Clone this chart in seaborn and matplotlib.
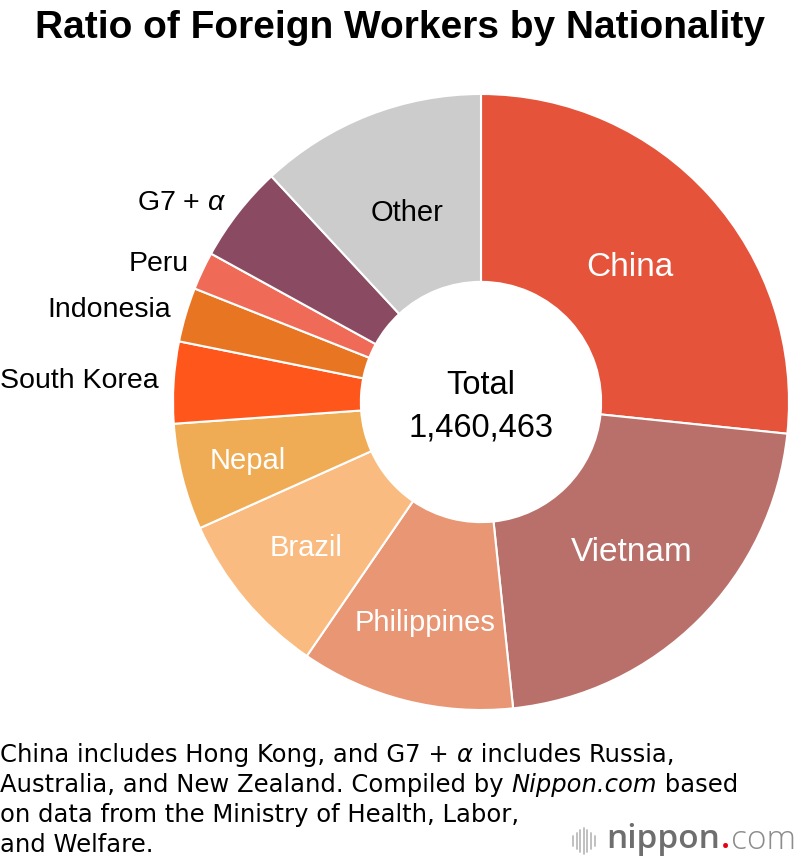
import numpy as np
import matplotlib.pyplot as plt
import seaborn as sns
from matplotlib.lines import Line2D

# data (Ministry of Health, Labor and Welfare)
countries = ['China', 'Vietnam', 'Philippines', 'Brazil', 'Nepal',
             'South Korea', 'Indonesia', 'Peru', 'G7 + $\\alpha$', 'Other']
workers = [389117, 316840, 164006, 127392, 81562,
           62516, 41586, 29140, 74335, 173969]
colors = ['#E5533A', '#BA706A', '#E99675', '#FABB80', '#F0AC55',
          '#FF561B', '#E87522', '#EF6B58', '#8A4A62', '#CCCCCC']
inside = [True, True, True, True, True, False, False, False, False, True]
label_colors = ['white', 'white', 'white', 'white', 'white',
                'black', 'black', 'black', 'black', 'black']
label_sizes = [24, 24, 21, 21, 21, 20.5, 20.5, 20.5, 20.5, 21]
label_radius = [0.65, 0.69, 0.74, 0.74, 0.78, 1.05, 1.05, 1.05, 1.05, 0.66]
total = sum(workers)

sns.set_theme(style='white')
plt.rcParams['font.family'] = ['Liberation Sans', 'DejaVu Sans']
plt.rcParams['text.color'] = 'black'
plt.rcParams['mathtext.fontset'] = 'custom'
plt.rcParams['mathtext.rm'] = 'Liberation Sans'
plt.rcParams['mathtext.it'] = 'Liberation Sans:italic'

fig = plt.figure(figsize=(8, 8.64), dpi=100)
ax = fig.add_axes([173 / 800, 154 / 864, 616 / 800, 616 / 864])

wedges, _ = ax.pie(workers, colors=colors, startangle=90, counterclock=False,
                   radius=1, wedgeprops=dict(width=0.61, edgecolor='white', linewidth=1.5))
ax.set_xlim(-1, 1)
ax.set_ylim(-1, 1)
ax.set_aspect('equal')
ax.axis('off')

# labels at the middle angle of each wedge
for w, name, ins, lc, fs, r in zip(wedges, countries, inside, label_colors,
                                   label_sizes, label_radius):
    mid = np.deg2rad((w.theta1 + w.theta2) / 2)
    x, y = r * np.cos(mid), r * np.sin(mid)
    ax.text(x, y, name, ha='center' if ins else 'right', va='center',
            fontsize=fs, color=lc)

ax.text(0, 0.052, 'Total', ha='center', va='center', fontsize=23.5)
ax.text(0, -0.084, f'{total:,}', ha='center', va='center', fontsize=23.5)

fig.text(0.5, 1 - 28 / 864, 'Ratio of Foreign Workers by Nationality',
         ha='center', va='center', fontsize=28, fontweight='bold')

# footnote, written piece by piece so the italic parts sit inline
notes = [[('China includes Hong Kong, and G7 + ', 'normal'), ('α', 'italic'),
          (' includes Russia,', 'normal')],
         [('Australia, and New Zealand. Compiled by ', 'normal'),
          ('Nippon.com', 'italic'), (' based', 'normal')],
         [('on data from the Ministry of Health, Labor,', 'normal')],
         [('and Welfare.', 'normal')]]
renderer = fig.canvas.get_renderer()
for i, line in enumerate(notes):
    x0 = 0.0
    for part, style in line:
        t = fig.text(x0, 1 - (755 + 30 * i) / 864, part, ha='left', va='center',
                     fontsize=17.5, style=style, family='DejaVu Sans')
        x0 = t.get_window_extent(renderer).x1 / 800

# nippon.com logo
bar_h = [10, 16, 22, 26, 22, 16, 10]
for i, h in enumerate(bar_h):
    xp = (573 + i * 3.6) / 800
    fig.add_artist(Line2D([xp, xp], [1 - (841 + h / 2) / 864, 1 - (841 - h / 2) / 864],
                          color='#BBBBBB', lw=1.3))
x0 = 606 / 800
for part, col, wt in [('nippon', '#6E6E6E', 'semibold'), ('.', '#E60012', 'semibold'),
                      ('com', '#8C8C8C', 'light')]:
    t = fig.text(x0, 1 - 840 / 864, part, ha='left', va='center', fontsize=24,
                 color=col, fontweight=wt, family='Open Sans')
    bb = t.get_window_extent(renderer)
    x0 = bb.x1 / 800 + 1 / 800

fig.savefig('out.png', dpi=100)
